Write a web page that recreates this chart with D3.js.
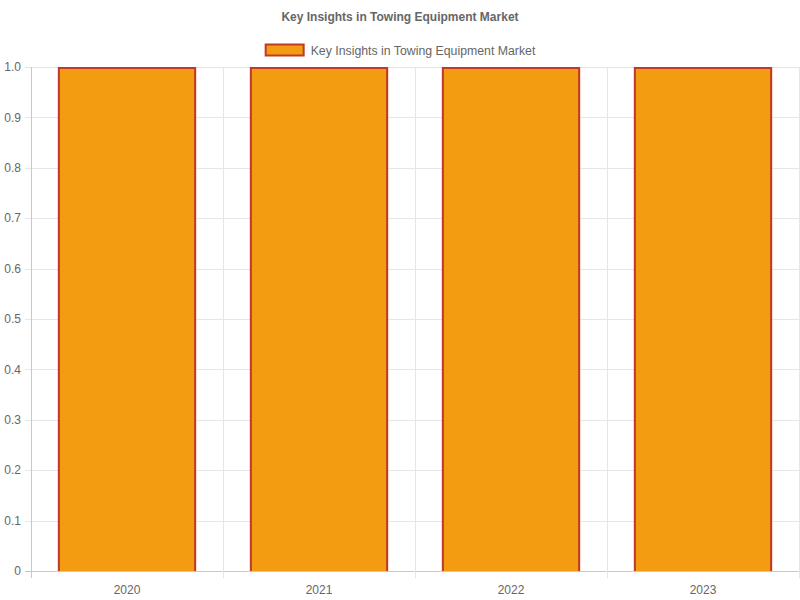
<!DOCTYPE html>
<html>
<head>
<meta charset="utf-8">
<script src="https://cdn.jsdelivr.net/npm/d3@7"></script>
<style>
  body { margin: 0; background: #fff; }
  text { font-family: "Liberation Sans", Arial, sans-serif; }
</style>
</head>
<body>
<div id="chart"></div>
<script>
// data
var years = ["2020", "2021", "2022", "2023"];
var values = [1, 1, 1, 1];
var yTicks = [0, 0.1, 0.2, 0.3, 0.4, 0.5, 0.6, 0.7, 0.8, 0.9, 1.0];
var title = "Key Insights in Towing Equipment Market";
var seriesName = "Key Insights in Towing Equipment Market";

var width = 800, height = 600;
var margin = { top: 67, right: 1, bottom: 29, left: 31 };

var svg = d3.select("#chart").append("svg")
  .attr("width", width)
  .attr("height", height);

var x = d3.scaleBand()
  .domain(years)
  .range([margin.left, width - margin.right]);

var y = d3.scaleLinear()
  .domain([0, 1])
  .range([height - margin.bottom, margin.top]);

// grid lines horizontal
svg.append("g").selectAll("line")
  .data(yTicks).enter()
  .append("line")
    .attr("x1", margin.left - 6)
    .attr("x2", width - margin.right)
    .attr("y1", function(d) { return Math.round(y(d)) + 0.5; })
    .attr("y2", function(d) { return Math.round(y(d)) + 0.5; })
    .style("stroke", function(d) { return d === 0 ? "#c8c8c8" : "#e6e6e6"; })
    .style("stroke-width", 1);

// vertical grid lines (category boundaries)
var xEdges = years.map(function(d) { return x(d); }).concat([width - margin.right]);
svg.append("g").selectAll("line")
  .data(xEdges).enter()
  .append("line")
    .attr("x1", function(d) { return Math.round(d) + 0.5; })
    .attr("x2", function(d) { return Math.round(d) + 0.5; })
    .attr("y1", margin.top)
    .attr("y2", height - margin.bottom + 7)
    .style("stroke", function(d, i) { return i === 0 ? "#c8c8c8" : "#e6e6e6"; })
    .style("stroke-width", 1);

// bars
var barW = x.bandwidth() * 0.72;
var bars = svg.append("g").selectAll("g")
  .data(values).enter()
  .append("g");

bars.append("rect")
  .attr("x", function(d, i) { return x(years[i]) + (x.bandwidth() - barW) / 2; })
  .attr("y", function(d) { return y(d); })
  .attr("width", barW)
  .attr("height", function(d) { return y(0) - y(d); })
  .style("fill", "#f39c12");

// border without the bottom edge
bars.append("path")
  .attr("d", function(d, i) {
    var x0 = x(years[i]) + (x.bandwidth() - barW) / 2 + 1;
    var x1 = x0 + barW - 2;
    var y0 = y(0), y1 = y(d) + 1;
    return "M" + x0 + "," + y0 + "V" + y1 + "H" + x1 + "V" + y0;
  })
  .style("fill", "none")
  .style("stroke", "#c0392b")
  .style("stroke-width", 2);

// y tick labels
svg.append("g").selectAll("text")
  .data(yTicks).enter()
  .append("text")
    .attr("x", margin.left - 10)
    .attr("y", function(d) { return y(d); })
    .attr("dy", "0.35em")
    .attr("text-anchor", "end")
    .style("font-size", "12px")
    .style("fill", "#666")
    .text(function(d) { return d === 0 ? "0" : d.toFixed(1); });

// x tick labels
svg.append("g").selectAll("text")
  .data(years).enter()
  .append("text")
    .attr("x", function(d) { return x(d) + x.bandwidth() / 2; })
    .attr("y", height - margin.bottom + 19)
    .attr("dy", "0.35em")
    .attr("text-anchor", "middle")
    .style("font-size", "12px")
    .style("fill", "#666")
    .text(function(d) { return d; });

// title
svg.append("text")
  .attr("x", width / 2)
  .attr("y", 17)
  .attr("dy", "0.35em")
  .attr("text-anchor", "middle")
  .style("font-size", "12px")
  .style("font-weight", "bold")
  .style("fill", "#666")
  .text(title);

// legend
var legend = svg.append("g");
var legText = legend.append("text")
  .attr("y", 50.5)
  .attr("dy", "0.35em")
  .style("font-size", "12.3px")
  .style("fill", "#666")
  .text(seriesName);
var tw = legText.node().getComputedTextLength();
var total = 40 + 6 + tw;
var lx = (width - total) / 2;
legend.append("rect")
  .attr("x", lx + 1)
  .attr("y", 44.5)
  .attr("width", 38)
  .attr("height", 11)
  .style("fill", "#f39c12")
  .style("stroke", "#c0392b")
  .style("stroke-width", 2);
legText.attr("x", lx + 46);
</script>
</body>
</html>
